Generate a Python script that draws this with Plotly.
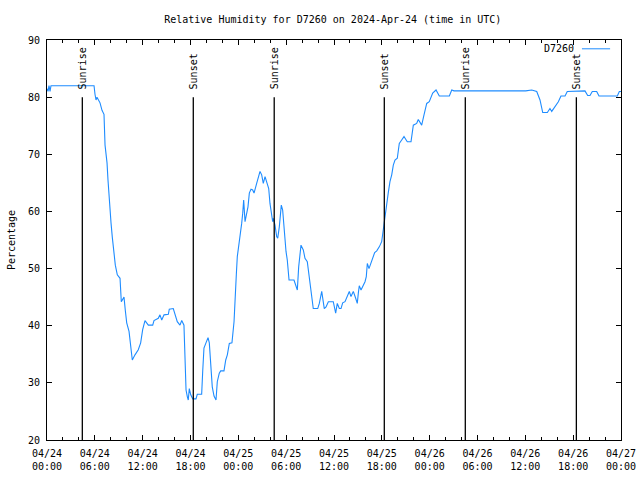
import pandas as pd
import plotly.graph_objects as go

start = pd.Timestamp("2024-04-24 00:00")

# hours since 2024-04-24 00:00 UTC
hours = [0.0, 0.13, 0.25, 0.38, 0.5, 5.9, 6.02, 6.15, 6.27, 6.46, 6.65, 6.9, 7.15, 7.28, 7.53, 7.65,
         7.81, 8.03, 8.19, 8.37, 8.57, 8.82, 9.16, 9.32, 9.66, 9.82, 10.0, 10.29, 10.5, 10.7, 11.04,
         11.45, 11.75, 12.0, 12.29, 12.71, 13.26, 13.42, 13.96, 14.17, 14.39, 14.68, 15.22, 15.34,
         15.84, 16.18, 16.34, 16.68, 16.9, 17.18, 17.35, 17.44, 17.6, 17.72, 17.85, 18.03, 18.28,
         18.69, 18.85, 19.4, 19.53, 19.69, 19.94, 20.2, 20.36, 20.53, 20.73, 20.95, 21.2, 21.36,
         21.61, 21.79, 22.2, 22.42, 22.62, 22.87, 23.2, 23.46, 23.58, 23.75, 23.87, 24.05, 24.21,
         24.42, 24.55, 24.67, 24.84, 25.05, 25.21, 25.38, 25.59, 25.8, 25.97, 26.3, 26.55, 26.72,
         26.93, 27.13, 27.35, 27.47, 27.63, 27.81, 27.97, 28.14, 28.31, 28.39, 28.6, 28.81, 28.94,
         29.14, 29.39, 29.56, 29.82, 29.98, 30.14, 30.36, 30.98, 31.23, 31.4, 31.57, 31.86, 32.15,
         32.36, 32.65, 32.9, 33.15, 33.4, 33.96, 34.16, 34.46, 34.66, 34.78, 35.0, 35.29, 35.91,
         36.04, 36.21, 36.41, 36.67, 36.88, 37.09, 37.38, 37.72, 37.92, 38.13, 38.42, 38.72, 38.92,
         39.05, 39.17, 39.39, 39.68, 39.89, 40.05, 40.18, 40.39, 40.6, 40.85, 41.1, 41.36, 41.68,
         41.98, 42.18, 42.4, 42.61, 42.81, 43.02, 43.24, 43.44, 43.65, 43.94, 44.19, 44.49, 44.78,
         45.19, 45.66, 45.95, 46.37, 46.57, 47.0, 47.29, 47.63, 47.95, 48.38, 48.8, 49.21, 50.47,
         50.77, 51.05, 60.05, 60.8, 61.43, 61.84, 62.18, 62.76, 63.09, 63.31, 63.72, 64.14, 64.47,
         64.98, 65.26, 67.48, 67.82, 68.11, 68.4, 68.95, 69.24, 71.54, 71.79, 72.0]

humidity = [81.5, 81, 82, 81, 82, 82, 80.5, 79.5, 80, 79.5, 79, 77.7, 77, 71.6, 68.5, 65.5,
            61.5, 58, 55.5, 53.2, 50.6, 48.9, 48.3, 44.2, 45, 42.7, 40.5, 39, 36.3, 34, 34.9,
            35.8, 37, 39.3, 40.9, 40.1, 40.1, 40.9, 41.3, 41.9, 41, 41.9, 42, 42.9,
            43, 41.3, 40.7, 40.1, 40.9, 40.1, 34.6, 28.75, 27.6, 27, 29, 27.9, 27.2,
            27.2, 28, 28, 32, 36.1, 37, 37.9, 37, 32.25, 29.3, 27.7, 27, 30.2,
            31.7, 32.1, 32.1, 34, 34.9, 36.9, 37, 40.7, 45, 49, 52.1, 53.8, 56.2,
            57.9, 59.7, 62, 58.2, 59.4, 60.8, 63.2, 63.9, 63.75, 63.2, 64.9, 66.1, 67,
            66.4, 64.9, 66.1, 65.5, 64.9, 64, 61.4, 60, 58.2, 58.8, 57.6, 55.6, 55.3,
            57.3, 61.1, 60.25, 55, 53, 51.5, 48, 48, 47.1, 46.25, 50.3, 54.1, 53.25,
            51.8, 51.2, 48.6, 45.7, 43, 43, 43.9, 46, 44.5, 43, 43.3, 44.2, 44.2,
            43.3, 42.2, 43.9, 43, 43, 44, 44.2, 45.4, 46, 45.1, 46, 44.8, 43.9,
            45.7, 47, 46.25, 47, 47.7, 48.6, 50.9, 50, 50.9, 51.8, 52.8, 53.1, 53.8,
            54.7, 57, 58.8, 61.4, 63.3, 65.2, 66.4, 68.1, 69, 69.3, 71.9, 72.5, 73.1,
            72.2, 72.2, 75.1, 75.4, 76.1, 75.1, 76.9, 78.9, 79.2, 80.7, 81.25, 80.2, 80.2,
            81.25, 81.1, 81.1, 81.25, 81, 79.5, 77.3, 77.3, 78, 77.5, 78.3, 79.2, 80.2,
            80.2, 81, 81.1, 80.3, 80.3, 81, 81, 80.2, 80.2, 81, 81]

event_hours = [4.43, 18.35, 28.5, 42.31, 52.47, 66.4]
event_names = ["Sunrise", "Sunset", "Sunrise", "Sunset", "Sunrise", "Sunset"]

tick_hours = list(range(0, 73, 6))

times = start + pd.to_timedelta(hours, unit="h")
event_times = start + pd.to_timedelta(event_hours, unit="h")
tick_times = start + pd.to_timedelta(tick_hours, unit="h")
tick_text = [t.strftime("%m/%d") + "<br>" + t.strftime("%H:%M") for t in tick_times]

FONT = "DejaVu Sans Mono"
COLOR = "#1E8CFF"

fig = go.Figure()
fig.add_trace(go.Scatter(x=times, y=humidity, mode="lines", name="D7260",
                         line=dict(color=COLOR, width=1.1), showlegend=False))

for t, name in zip(event_times, event_names):
    fig.add_shape(type="line", x0=t, x1=t, y0=20, y1=80, xref="x", yref="y",
                  line=dict(color="black", width=1.3))
    fig.add_annotation(x=t, y=80, xref="x", yref="y", text=name, showarrow=False,
                       textangle=-90, yanchor="bottom", xanchor="center", yshift=6,
                       font=dict(family=FONT, size=10, color="black"))

# legend (text on the left, sample on the right, gnuplot style)
fig.add_annotation(x=0.922, y=0.978, xref="paper", yref="paper", text="D7260",
                   showarrow=False, xanchor="right", yanchor="middle",
                   font=dict(family=FONT, size=10, color="black"))
fig.add_shape(type="line", x0=0.932, x1=0.981, y0=0.978, y1=0.978, xref="paper",
              yref="paper", line=dict(color=COLOR, width=1))

axis_common = dict(showline=True, linecolor="black", linewidth=1, mirror="ticks",
                   ticks="inside", tickcolor="black", showgrid=False, zeroline=False,
                   automargin=False,
                   tickfont=dict(family=FONT, size=10, color="black"))

fig.update_xaxes(range=[tick_times[0], tick_times[-1]], tickvals=tick_times, ticktext=tick_text,
                 ticklen=5, ticklabelstandoff=4,
                 minor=dict(dtick=2 * 3600 * 1000, ticks="inside", ticklen=3,
                            tickcolor="black", showgrid=False),
                 **axis_common)
fig.update_yaxes(range=[20, 90], dtick=10, ticklen=5, ticklabelstandoff=4,
                 title=dict(text="Percentage", font=dict(family=FONT, size=10, color="black"),
                            standoff=10),
                 **axis_common)

fig.update_layout(
    width=640, height=480,
    margin=dict(l=47, r=19, t=40, b=40),
    plot_bgcolor="white", paper_bgcolor="white",
    title=dict(text="Relative Humidity for D7260 on 2024-Apr-24 (time in UTC)",
               font=dict(family=FONT, size=10, color="black"),
               x=0.52, xanchor="center", y=0.96, yanchor="middle"),
)

fig.write_html("out.html")
